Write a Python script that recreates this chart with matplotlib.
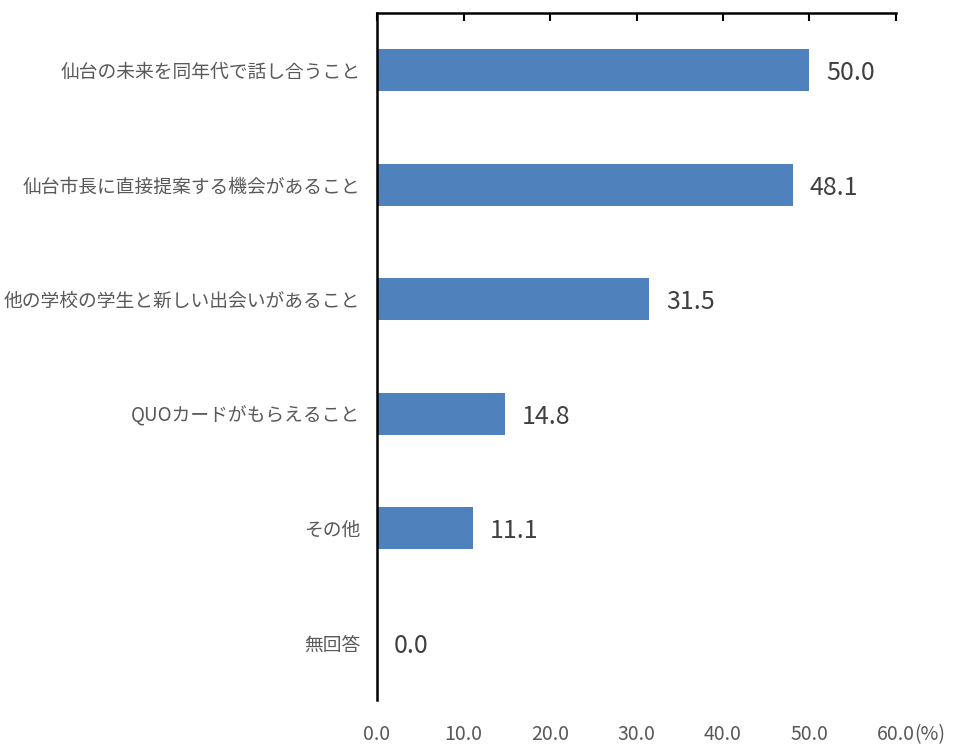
import matplotlib
matplotlib.use("Agg")
import matplotlib.pyplot as plt
import matplotlib.transforms as mtransforms
import numpy as np

plt.rcParams['font.family'] = ['Noto Sans CJK JP', 'DejaVu Sans']

# データ
categories = [
    "仙台の未来を同年代で話し合うこと",
    "仙台市長に直接提案する機会があること",
    "他の学校の学生と新しい出会いがあること",
    "QUOカードがもらえること",
    "その他",
    "無回答",
]
values = [50.0, 48.1, 31.5, 14.8, 11.1, 0.0]
xticks = [0, 10, 20, 30, 40, 50, 60]

bar_color = '#4F81BD'
label_color = '#595959'
value_color = '#404040'

fig = plt.figure(figsize=(9.55, 7.44), dpi=100)
ax = fig.add_axes([0.3948, 0.0591, 0.5434, 0.9234])

y = np.arange(len(categories))
ax.barh(y, values, height=0.37, color=bar_color)

ax.set_ylim(len(categories) - 0.5, -0.5)
ax.set_xlim(0, 60)

# 値ラベル
for yi, v in zip(y, values):
    ax.annotate(f"{v:.1f}", (v, yi), xytext=(12, -2), textcoords='offset points',
                ha='left', va='center', fontsize=18, color=value_color)

ax.set_yticks(y)
ax.set_yticklabels(categories, fontsize=13.5, color=label_color)
ax.tick_params(axis='y', length=0, pad=12)

ax.set_xticks(xticks)
ax.set_xticklabels([f"{t:.1f}" for t in xticks], fontsize=14, color=label_color)
ax.tick_params(axis='x', top=True, bottom=False, labeltop=False, labelbottom=True,
               direction='in', length=6, width=1.5, pad=17)

# (%) 表示
trans = mtransforms.blended_transform_factory(ax.transData, ax.transAxes)
ax.annotate("(%)", (60, 0), xycoords=trans, xytext=(13, -17), textcoords='offset points',
            ha='left', va='top', fontsize=14, color=label_color)

for side in ['right', 'bottom']:
    ax.spines[side].set_visible(False)
for side in ['top', 'left']:
    ax.spines[side].set_linewidth(1.8)
    ax.spines[side].set_color('black')

fig.savefig("out.png", dpi=100)
